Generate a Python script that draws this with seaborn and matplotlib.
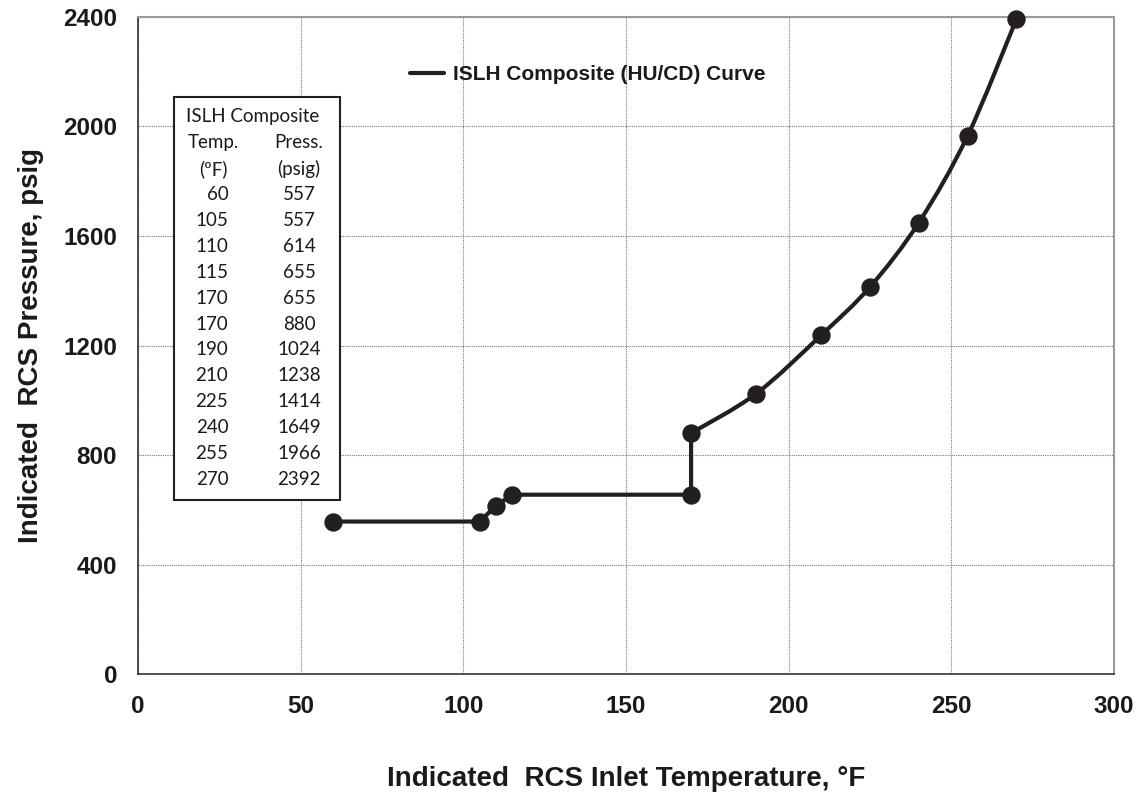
import numpy as np
import pandas as pd
import matplotlib
matplotlib.use("Agg")
import matplotlib.pyplot as plt
from matplotlib.path import Path
from matplotlib.patches import PathPatch, Rectangle
import seaborn as sns

# ISLH composite heatup/cooldown curve
temp_f = [60, 105, 110, 115, 170, 170, 190, 210, 225, 240, 255, 270]
press_psig = [557, 557, 614, 655, 655, 880, 1024, 1238, 1414, 1649, 1966, 2392]
n_straight = 6  # first points joined by straight lines, rest smoothed

x_ticks = [0, 50, 100, 150, 200, 250, 300]
y_ticks = [0, 400, 800, 1200, 1600, 2000, 2400]

ink = '#231f20'

sns.set_style('white')
plt.rcParams['font.family'] = ['Liberation Sans', 'DejaVu Sans']

fig = plt.figure(figsize=(11.4, 8.08), dpi=100)
ax = fig.add_axes([0.1211, 0.1658, 0.8561, 0.8132])

df = pd.DataFrame({'temp': temp_f, 'press': press_psig})
straight = df.iloc[:n_straight]
smooth = df.iloc[n_straight - 1:]

sns.lineplot(data=straight, x='temp', y='press', sort=False, estimator=None,
             color=ink, lw=3, ax=ax, label='ISLH Composite (HU/CD) Curve', zorder=3)

# smoothed part (Excel style bezier through the points)
pts = smooth[['temp', 'press']].to_numpy(dtype=float)
verts = [pts[0]]
codes = [Path.MOVETO]
for i in range(len(pts) - 1):
    p_prev = pts[i - 1] if i > 0 else pts[i]
    p_next = pts[i + 2] if i + 2 < len(pts) else pts[i + 1]
    c1 = pts[i] + (pts[i + 1] - p_prev) / 6
    c2 = pts[i + 1] - (p_next - pts[i]) / 6
    verts += [c1, c2, pts[i + 1]]
    codes += [Path.CURVE4] * 3
ax.add_patch(PathPatch(Path(verts, codes), fill=False, edgecolor=ink, lw=3,
                       zorder=3, capstyle='round'))

sns.scatterplot(data=df, x='temp', y='press', color=ink, s=150, edgecolor=ink,
                legend=False, ax=ax, zorder=4, clip_on=False)

ax.set_xlim(0, 300)
ax.set_ylim(0, 2400)
ax.set_xticks(x_ticks)
ax.set_yticks(y_ticks)
ax.tick_params(axis='both', direction='out', length=6, width=1, color='#444444',
               labelsize=17.5, pad=9)
for lab in ax.get_xticklabels() + ax.get_yticklabels():
    lab.set_fontweight('bold')
    lab.set_color('#1a1a1a')

ax.grid(True, color='#777777', linestyle=(0, (1, 1)), linewidth=0.8)
ax.set_axisbelow(True)
for side in ['left', 'bottom']:
    ax.spines[side].set_color('#333333')
    ax.spines[side].set_linewidth(1.2)
for side in ['top', 'right']:
    ax.spines[side].set_color('#9a9a9a')
    ax.spines[side].set_linewidth(1.5)

ax.set_xlabel('Indicated  RCS Inlet Temperature, °F', fontsize=20,
              fontweight='bold', labelpad=35, color='#1a1a1a')
ax.set_ylabel('Indicated  RCS Pressure, psig', fontsize=20,
              fontweight='bold', labelpad=14, color='#1a1a1a')

leg = ax.legend(loc='center left', bbox_to_anchor=(0.279, 0.912), frameon=False,
                borderpad=0, borderaxespad=0, handlelength=1.6, handletextpad=0.45,
                prop={'family': 'Liberation Sans', 'weight': 'bold', 'size': 15})
for t in leg.get_texts():
    t.set_color('#1a1a1a')

# data table inset
ax.add_patch(Rectangle((0.0369, 0.265), 0.170, 0.613, transform=ax.transAxes,
                       facecolor='white', edgecolor=ink, lw=1.5, zorder=5))
tkw = dict(transform=ax.transAxes, family='Lato', fontsize=13.5, color='#1a1a1a',
           va='center', zorder=6)
row0 = 0.8478
step = 0.0394
ax.text(0.1178, row0, 'ISLH Composite', ha='center', **tkw)
ax.text(0.0768, row0 - step, 'Temp.', ha='center', **tkw)
ax.text(0.165, row0 - step, 'Press.', ha='center', **tkw)
ax.text(0.0768, row0 - 2 * step, '(ºF)', ha='center', **tkw)
ax.text(0.165, row0 - 2 * step, '(psig)', ha='center', **tkw)
for i, (t, p) in enumerate(zip(temp_f, press_psig)):
    y = row0 - (3 + i) * step
    ax.text(0.0925, y, str(t), ha='right', **tkw)
    ax.text(0.165, y, str(p), ha='center', **tkw)

plt.savefig('out.png', dpi=100)
